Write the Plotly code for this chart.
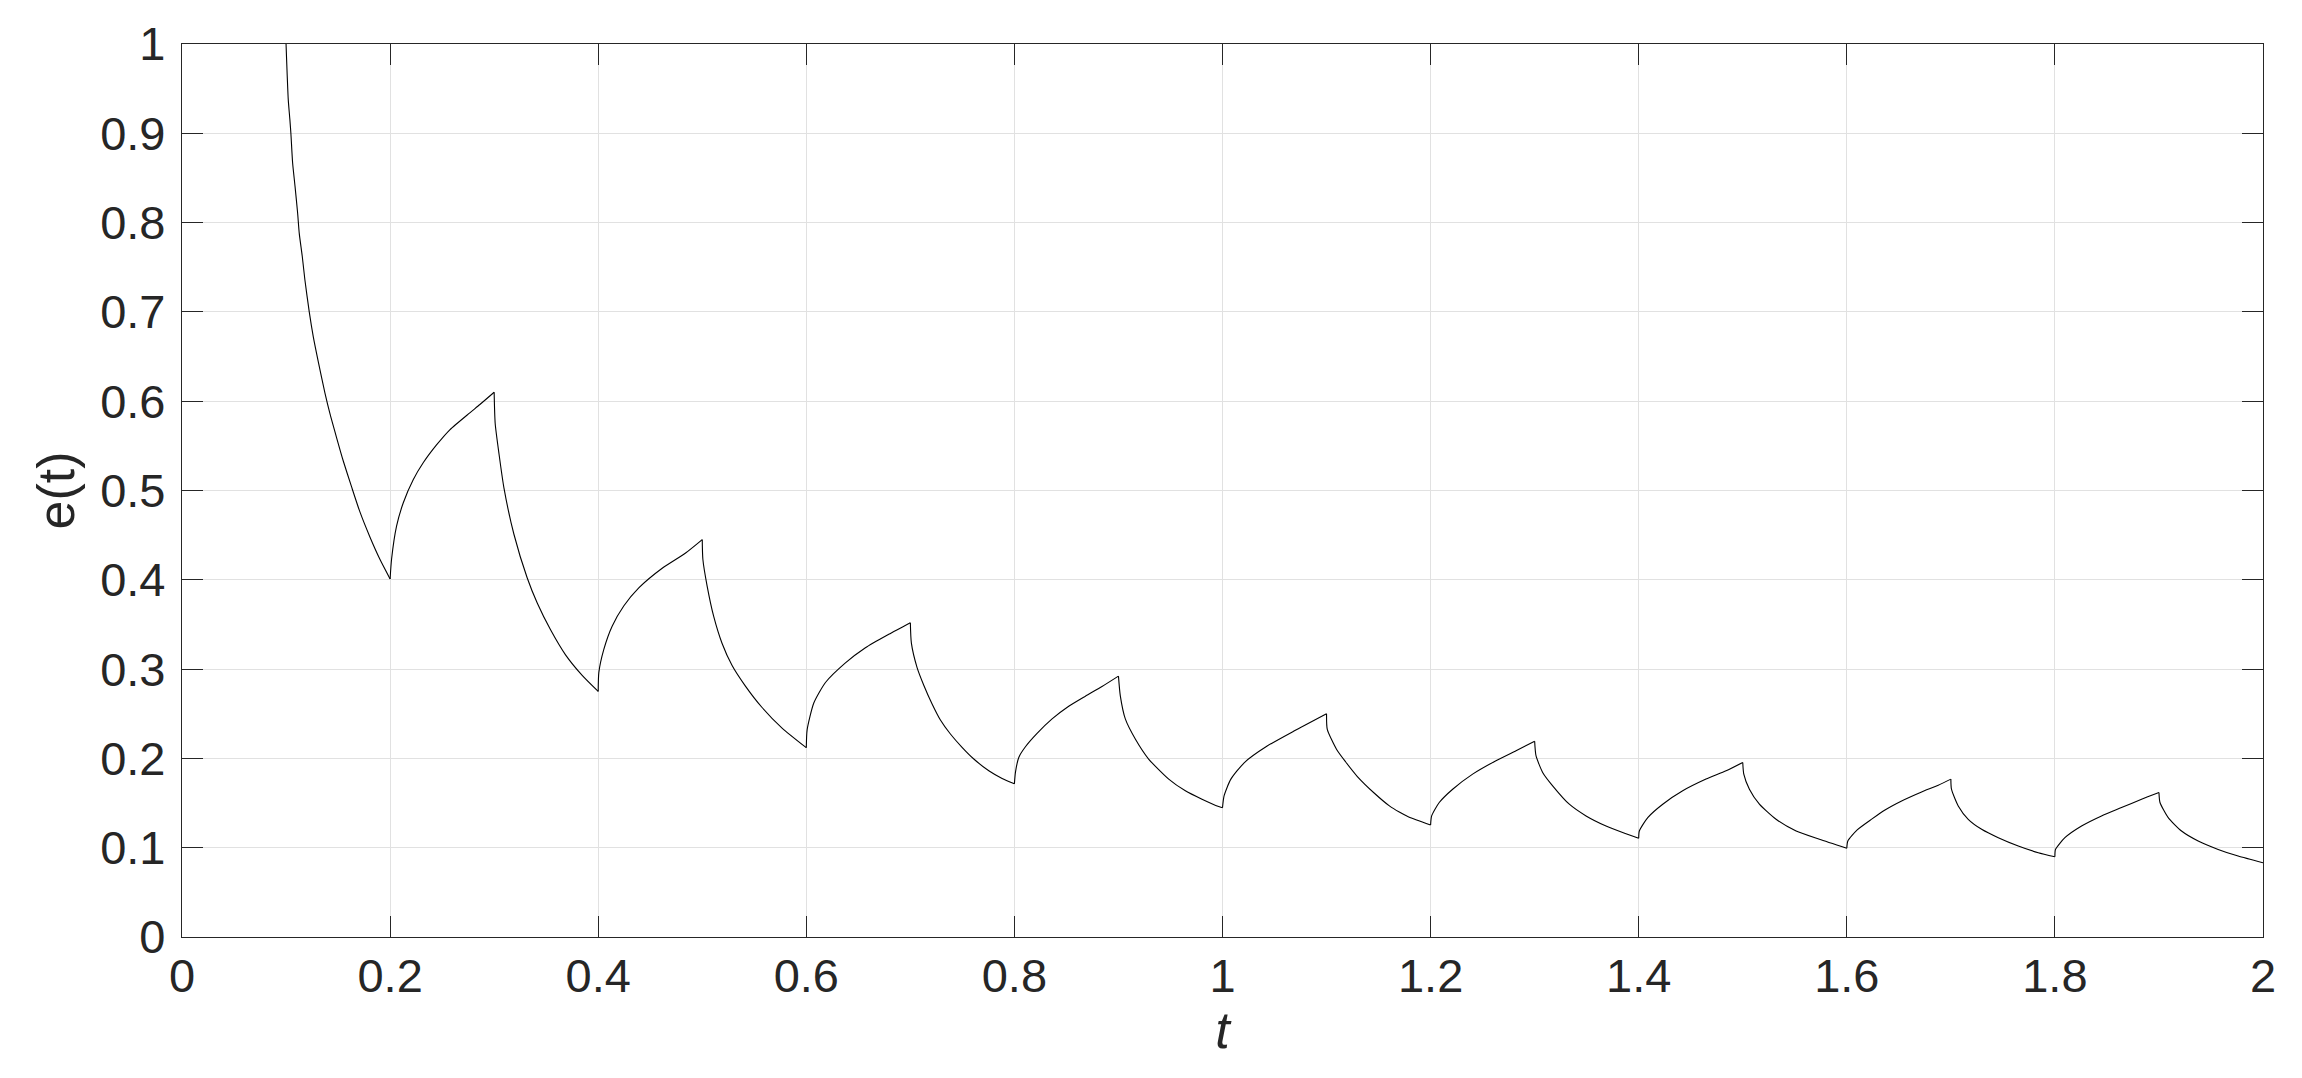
import plotly.graph_objects as go

# Values
t_values = [
    0.1000, 0.1021, 0.1037, 0.1047, 0.1063, 0.1086, 0.1111, 0.1127, 0.1156, 0.1181,
    0.1223, 0.1262, 0.1310, 0.1374, 0.1422, 0.1486, 0.1550, 0.1630, 0.1710, 0.1806,
    0.1902, 0.2000,
    0.2014, 0.2062, 0.2126, 0.2222, 0.2318, 0.2446, 0.2574, 0.2766, 0.2860, 0.3000,
    0.3010, 0.3046, 0.3094, 0.3190, 0.3318, 0.3414, 0.3542, 0.3686, 0.3846, 0.4000,
    0.4006, 0.4054, 0.4134, 0.4247, 0.4390, 0.4615, 0.4840, 0.5000,
    0.5006, 0.5047, 0.5110, 0.5190, 0.5287, 0.5415, 0.5575, 0.5767, 0.6000,
    0.6008, 0.6072, 0.6184, 0.6376, 0.6568, 0.6792, 0.7000,
    0.7010, 0.7064, 0.7129, 0.7209, 0.7289, 0.7385, 0.7497, 0.7610, 0.7754, 0.7882, 0.8000,
    0.8010, 0.8042, 0.8106, 0.8218, 0.8362, 0.8522, 0.8682, 0.8842, 0.9000,
    0.9018, 0.9066, 0.9162, 0.9290, 0.9483, 0.9643, 0.9803, 0.9963, 1.0000,
    1.0015, 1.0079, 1.0208, 1.0429, 1.0687, 1.1000,
    1.1007, 1.1097, 1.1184, 1.1294, 1.1460, 1.1607, 1.1699, 1.1790, 1.2000,
    1.2010, 1.2083, 1.2212, 1.2404, 1.2628, 1.2821, 1.3000,
    1.3013, 1.3077, 1.3173, 1.3333, 1.3494, 1.3686, 1.3878, 1.4000,
    1.4006, 1.4087, 1.4231, 1.4423, 1.4647, 1.4840, 1.5000,
    1.5010, 1.5064, 1.5160, 1.5320, 1.5513, 1.5737, 1.6000,
    1.6010, 1.6100, 1.6239, 1.6367, 1.6527, 1.6719, 1.6879, 1.7000,
    1.7006, 1.7071, 1.7167, 1.7296, 1.7456, 1.7648, 1.7840, 1.8000,
    1.8006, 1.8096, 1.8256, 1.8448, 1.8640, 1.8833, 1.9000,
    1.9010, 1.9089, 1.9217, 1.9377, 1.9569, 1.9761, 2.0000,
]

e_values = [
    1.000, 0.938, 0.915, 0.899, 0.867, 0.841, 0.811, 0.788, 0.762, 0.736,
    0.700, 0.672, 0.644, 0.609, 0.586, 0.559, 0.533, 0.504, 0.476, 0.448,
    0.423, 0.401,
    0.423, 0.460, 0.486, 0.512, 0.531, 0.551, 0.568, 0.587, 0.596, 0.610,
    0.575, 0.5415, 0.503, 0.451, 0.402, 0.374, 0.344, 0.316, 0.293, 0.275,
    0.296, 0.322, 0.348, 0.371, 0.391, 0.413, 0.430, 0.445,
    0.423, 0.393, 0.359, 0.329, 0.304, 0.281, 0.257, 0.234, 0.212,
    0.232, 0.262, 0.285, 0.307, 0.324, 0.339, 0.352,
    0.329, 0.302, 0.282, 0.261, 0.2430, 0.2273, 0.2124, 0.1993, 0.1861, 0.1775, 0.1715,
    0.1843, 0.2011, 0.2130, 0.2280, 0.2442, 0.2584, 0.2697, 0.2805, 0.2921,
    0.270, 0.2442, 0.2217, 0.1993, 0.1768, 0.1637, 0.1543, 0.1461, 0.1448,
    0.158, 0.1765, 0.1951, 0.2138, 0.2306, 0.250,
    0.2325, 0.210, 0.196, 0.180, 0.1610, 0.1466, 0.1400, 0.1345, 0.1255,
    0.1356, 0.1506, 0.1655, 0.1824, 0.1974, 0.2086, 0.2191,
    0.203, 0.1843, 0.1693, 0.1487, 0.1356, 0.1243, 0.1157, 0.1105,
    0.1187, 0.1337, 0.1487, 0.1637, 0.1768, 0.1861, 0.1955,
    0.1824, 0.1655, 0.1487, 0.1318, 0.1187, 0.1094, 0.0993,
    0.1075, 0.1200, 0.1320, 0.1423, 0.1524, 0.1625, 0.1700, 0.1768,
    0.1655, 0.1468, 0.1318, 0.1206, 0.1112, 0.1019, 0.0944, 0.0899,
    0.0981, 0.1112, 0.1243, 0.1356, 0.1449, 0.1543, 0.1618,
    0.1506, 0.1337, 0.1187, 0.1075, 0.0981, 0.0906, 0.0831,
]

# switching instants (cusps) where the curve changes from decay to rise or back
cusp_times = [0.2, 0.3, 0.4, 0.5, 0.6, 0.7, 0.8, 0.9, 1.0, 1.1,
              1.2, 1.3, 1.4, 1.5, 1.6, 1.7, 1.8, 1.9]

x_tick_vals = [0, 0.2, 0.4, 0.6, 0.8, 1.0, 1.2, 1.4, 1.6, 1.8, 2.0]
x_tick_text = ["0", "0.2", "0.4", "0.6", "0.8", "1", "1.2", "1.4", "1.6", "1.8", "2"]
y_tick_vals = [0, 0.1, 0.2, 0.3, 0.4, 0.5, 0.6, 0.7, 0.8, 0.9, 1.0]
y_tick_text = ["0", "0.1", "0.2", "0.3", "0.4", "0.5", "0.6", "0.7", "0.8", "0.9", "1"]

AXIS_COLOR = "#262626"
GRID_COLOR = "#e1e1e1"
FONT = "Liberation Sans, Arial, Helvetica, sans-serif"

# split the curve into smooth pieces between cusps (cusp points shared)
segments = []
current_t, current_e = [], []
for tv, ev in zip(t_values, e_values):
    current_t.append(tv)
    current_e.append(ev)
    if any(abs(tv - c) < 1e-9 for c in cusp_times):
        segments.append((current_t, current_e))
        current_t, current_e = [tv], [ev]
if len(current_t) > 1:
    segments.append((current_t, current_e))

fig = go.Figure()
for seg_t, seg_e in segments:
    fig.add_trace(go.Scatter(
        x=seg_t, y=seg_e, mode="lines",
        line=dict(color="black", width=1.1, shape="spline", smoothing=0.6),
        showlegend=False, hoverinfo="x+y",
    ))

common = dict(
    showgrid=True, gridcolor=GRID_COLOR, gridwidth=1,
    showline=True, linecolor=AXIS_COLOR, linewidth=1.2, mirror="ticks",
    ticks="inside", ticklen=21, tickwidth=1.2, tickcolor=AXIS_COLOR,
    tickfont=dict(family=FONT, size=47, color=AXIS_COLOR),
    zeroline=False, fixedrange=True,
)

# the page body has an 8px default margin, so the figure is offset by 8px
fig.update_layout(
    width=2294, height=1070,
    margin=dict(l=174, r=39, t=36, b=141, autoexpand=False),
    paper_bgcolor="white", plot_bgcolor="white",
    font=dict(family=FONT, color=AXIS_COLOR),
    xaxis=dict(
        range=[0, 2], tickmode="array", tickvals=x_tick_vals, ticktext=x_tick_text,
        ticklabelstandoff=-3,
        title=dict(text="<i>t</i>", font=dict(family=FONT, size=52, color=AXIS_COLOR), standoff=0),
        automargin=False,
        **common,
    ),
    yaxis=dict(
        range=[0, 1], tickmode="array", tickvals=y_tick_vals, ticktext=y_tick_text,
        ticklabelstandoff=6,
        title=dict(text="e(t)", font=dict(family=FONT, size=52, color=AXIS_COLOR), standoff=8),
        automargin=False,
        **common,
    ),
)

fig.write_html("out.html")
